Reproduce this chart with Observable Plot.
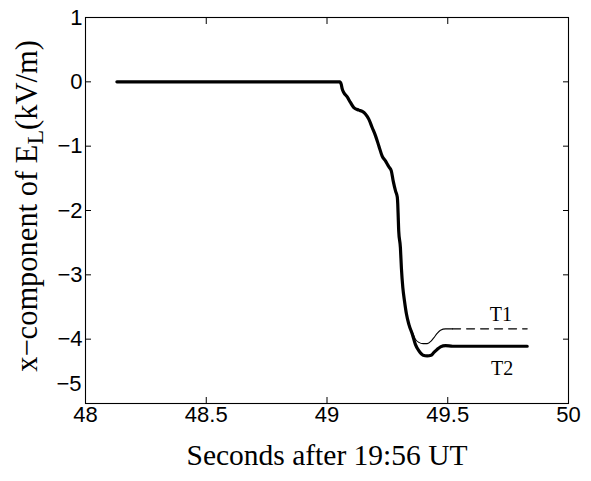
<!DOCTYPE html>
<html>
<head>
<meta charset="utf-8">
<script src="https://cdn.jsdelivr.net/npm/d3@7"></script>
<script src="https://cdn.jsdelivr.net/npm/@observablehq/plot@0.6"></script>
<style>
body { margin: 0; background: #fff; }
</style>
</head>
<body>
<div id="chart"></div>
<script>
// Time (s after 19:56 UT)
const time = [48.13, 49.053, 49.059, 49.063, 49.070, 49.083, 49.097, 49.111, 49.132, 49.146, 49.159, 49.173, 49.187, 49.201, 49.215, 49.228, 49.242, 49.256, 49.266, 49.274, 49.284, 49.291, 49.293, 49.295, 49.297, 49.304, 49.308, 49.314, 49.321, 49.329, 49.339, 49.353, 49.366, 49.380, 49.398, 49.415, 49.431, 49.442, 49.456, 49.470, 49.491, 49.52, 49.829];
// T2 values (kV/m)
const t2Values = [0, 0, -0.04, -0.11, -0.17, -0.23, -0.32, -0.40, -0.44, -0.46, -0.50, -0.58, -0.71, -0.84, -1.00, -1.15, -1.23, -1.32, -1.38, -1.54, -1.70, -1.79, -1.90, -2.11, -2.32, -2.58, -2.89, -3.20, -3.41, -3.61, -3.77, -3.92, -4.08, -4.18, -4.25, -4.26, -4.25, -4.21, -4.16, -4.12, -4.10, -4.11, -4.11];
// T1 values (kV/m)
const t1Values = [0, 0, -0.04, -0.11, -0.17, -0.23, -0.32, -0.40, -0.44, -0.46, -0.50, -0.58, -0.71, -0.84, -1.00, -1.15, -1.23, -1.32, -1.38, -1.54, -1.70, -1.79, -1.90, -2.11, -2.32, -2.58, -2.89, -3.20, -3.41, -3.61, -3.77, -3.89, -4.00, -4.05, -4.07, -4.07, -4.03, -3.98, -3.91, -3.86, -3.84, -3.84, -3.84];
const dashStart = 49.52;
const xTicks = [48, 48.5, 49, 49.5, 50];
const yTicks = [-5, -4, -3, -2, -1, 0, 1];
const seriesLabels = [{name: "T1", t: 49.72, v: -3.62}, {name: "T2", t: 49.725, v: -4.45}];

const t1 = time.map((t, i) => ({t, v: t1Values[i]}));
const t2 = time.map((t, i) => ({t, v: t2Values[i]}));
const t1Solid = t1.filter(d => d.t <= dashStart);
const t1Dashed = t1.filter(d => d.t >= dashStart);

const sans = "'Liberation Sans', Arial, sans-serif";
const serif = "'Liberation Serif', 'Times New Roman', serif";
const minus = d => d < 0 ? "\u2212" + Math.abs(d) : String(d);

const plot = Plot.plot({
  width: 591,
  height: 481,
  marginLeft: 85,
  marginRight: 23,
  marginTop: 17,
  marginBottom: 78,
  style: {fontFamily: sans, fontSize: "22px", color: "#000", background: "#fff"},
  x: {domain: [48, 50]},
  y: {domain: [-5, 1]},
  marks: [
    Plot.frame({stroke: "#000", strokeWidth: 1.1}),
    Plot.axisX({ticks: xTicks, anchor: "bottom", tickSize: -6, tickPadding: 9, tickFormat: d => String(d), label: null, fontSize: 22}),
    Plot.axisX({ticks: xTicks, anchor: "top", tickSize: -6, tickFormat: () => "", label: null}),
    Plot.axisY({ticks: yTicks.filter(d => d !== -5), anchor: "left", tickSize: -6, tickPadding: 9, tickFormat: minus, label: null, fontSize: 22}),
    Plot.axisY({ticks: [-5], anchor: "left", tickSize: 0, tickPadding: 4, dy: -20, tickFormat: minus, label: null, fontSize: 22}),
    Plot.axisY({ticks: yTicks, anchor: "right", tickSize: -6, tickFormat: () => "", label: null}),
    Plot.line(t1Solid, {x: "t", y: "v", stroke: "#000", strokeWidth: 1.1, curve: "monotone-x"}),
    Plot.line(t1Dashed, {x: "t", y: "v", stroke: "#000", strokeWidth: 1.1, strokeDasharray: "8,6"}),
    Plot.line(t2, {x: "t", y: "v", stroke: "#000", strokeWidth: 3.2, curve: "monotone-x"}),
    Plot.text(seriesLabels, {x: "t", y: "v", text: "name", fontFamily: serif, fontSize: 20, fill: "#000"}),
    Plot.text(["Seconds after 19:56 UT"], {frameAnchor: "bottom", dy: 61, fontFamily: serif, fontSize: 29.5, fill: "#000"})
  ]
});

document.getElementById("chart").appendChild(plot);

// y-axis label with subscript
const svg = d3.select(plot);
const lbl = svg.append("text")
  .attr("transform", "translate(37,206) rotate(-90)")
  .attr("text-anchor", "middle")
  .attr("font-family", serif)
  .attr("font-size", 30.5)
  .attr("fill", "#000");
lbl.append("tspan").text("x\u2212component of E");
lbl.append("tspan").attr("baseline-shift", "-25%").attr("font-size", 24).text("L");
lbl.append("tspan").text("(kV/m)");
</script>
</body>
</html>
